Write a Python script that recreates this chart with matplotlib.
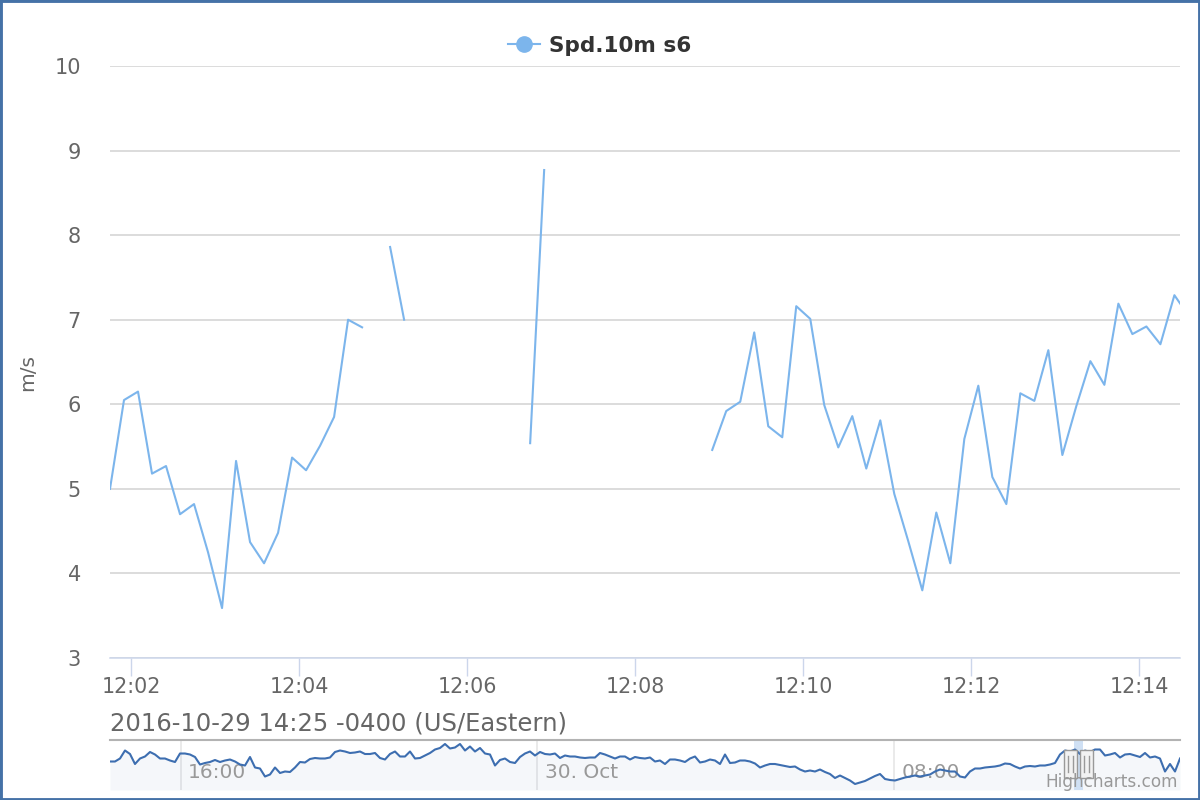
import numpy as np
import pandas as pd
import matplotlib
matplotlib.use("Agg")
import matplotlib.pyplot as plt
import matplotlib.dates as mdates
from matplotlib.patches import Rectangle
from matplotlib.lines import Line2D
from matplotlib.transforms import blended_transform_factory

# main window (10 s samples) and navigator window (24 h)
START = "2016-10-30 12:01:45"
END = "2016-10-30 12:14:29"
NAV_START = "2016-10-29 14:25"
NAV_END = "2016-10-30 14:25"

SERIES_NAME = "Spd.10m s6"
Y_LABEL = "m/s"
SUBTITLE = "2016-10-29 14:25 -0400 (US/Eastern)"

# wind speed, m/s, one value every 10 s (None = no data)
speed = [
    5.00, 6.05, 6.15, 5.18, 5.27, 4.70, 4.82, 4.25, 3.59, 5.33,
    4.37, 4.12, 4.48, 5.37, 5.22, 5.51, 5.85, 7.00, 6.91, None,
    7.86, 7.00, None, None, None, None, None, None, None, None,
    5.54, 8.77, None, None, None, None, None, None, None, None,
    None, None, None, 5.46, 5.92, 6.03, 6.85, 5.74, 5.61, 7.16,
    7.01, 5.99, 5.49, 5.86, 5.24, 5.81, 4.94, 4.38, 3.80, 4.72,
    4.12, 5.59, 6.22, 5.14, 4.82, 6.13, 6.04, 6.64, 5.40, 5.98,
    6.51, 6.23, 7.19, 6.83, 6.92, 6.71, 7.29, 7.05,
]

# navigator overview, evenly spaced over the 24 h
nav_speed = [
    5.7, 5.7, 6.3, 7.9, 7.2, 5.2, 6.3, 6.7, 7.6, 7.1,
    6.3, 6.3, 5.9, 5.6, 7.3, 7.3, 7.1, 6.6, 5.1, 5.4,
    5.6, 6.0, 5.6, 5.9, 6.1, 5.7, 5.1, 4.9, 6.6, 4.5,
    4.3, 2.7, 3.1, 4.5, 3.4, 3.7, 3.6, 4.5, 5.6, 5.5,
    6.2, 6.4, 6.3, 6.3, 6.5, 7.6, 7.9, 7.7, 7.4, 7.5,
    7.7, 7.2, 7.2, 7.4, 6.4,
    6.1, 7.2, 7.7, 6.7, 6.7, 7.7, 6.3, 6.4, 6.9, 7.4,
    8.1, 8.4, 9.2, 8.3, 8.5, 9.2, 7.9, 8.7, 7.7, 8.4,
    7.3, 7.1, 4.9, 6.0, 6.3, 5.6, 5.4, 6.6, 7.3, 7.7,
    6.9, 7.6, 7.2, 7.1, 7.3, 6.4, 6.9, 6.7, 6.7, 6.5,
    6.4, 6.5, 6.5, 7.4, 7.1, 6.7, 6.3, 6.7, 6.7, 6.1,
    6.6, 6.4, 6.3, 6.5,
    5.7, 5.9, 5.2, 6.1, 6.1, 5.9, 5.6, 6.3, 6.7, 5.5,
    5.7, 6.1, 5.9, 5.2, 7.1, 5.4, 5.5, 5.9, 5.9, 5.7,
    5.3, 4.5, 4.9, 5.2, 5.2, 5.0, 4.8, 4.6, 4.7, 4.1,
    3.7, 3.9, 3.7, 4.1, 3.6, 3.2, 2.4, 2.9, 2.4, 1.9,
    1.2, 1.5, 1.8, 2.3, 2.8, 3.2, 2.2, 2.0, 1.9, 2.2,
    2.5, 2.7, 2.9, 2.7,
    2.9, 3.1, 3.7, 4.1, 3.9, 3.7, 3.7, 2.7, 2.5, 3.7,
    4.3, 4.3, 4.5, 4.6, 4.7, 4.9, 5.3, 5.2, 4.7, 4.3,
    4.7, 4.8, 4.7, 4.9, 4.9, 5.1, 5.4, 7.1, 7.9, 7.7,
    8.1, 7.2, 7.9, 7.6, 8.1, 8.1, 6.9, 7.1, 7.4, 6.5,
    7.1, 7.2, 6.9, 6.6, 7.4, 6.5, 6.7, 6.3, 3.7, 5.2,
    3.7, 6.3,
]

nav_labels = [("2016-10-29 16:00", "16:00"),
              ("2016-10-30 00:00", "30. Oct"),
              ("2016-10-30 08:00", "08:00")]

LINE = "#7cb5ec"
NAV_LINE = "#3d6eb0"
GRID = "#d6d6d6"
AXIS = "#ccd6eb"
TEXT = "#666666"

W, H = 1200, 800


def fx(px):
    return px / W


def fy(py):
    return 1 - py / H


times = pd.date_range(START, periods=len(speed), freq="10s")
values = np.array([np.nan if v is None else v for v in speed], dtype=float)

fig = plt.figure(figsize=(12, 8), dpi=100)

# main chart
ax = fig.add_axes([fx(110), fy(658), 1070 / W, 592 / H])
ax.plot(times, values, color=LINE, lw=1.5, zorder=3)
ax.set_xlim(pd.Timestamp(START), pd.Timestamp(END))
ax.set_ylim(3, 10)
ax.set_yticks(range(3, 11))
ax.yaxis.grid(True, color=GRID, lw=1.2)
ax.set_axisbelow(True)
ax.xaxis.set_major_locator(mdates.MinuteLocator(byminute=range(0, 60, 2)))
ax.xaxis.set_major_formatter(mdates.DateFormatter("%H:%M"))
ax.tick_params(axis="x", length=13, width=1, color=AXIS, labelsize=14.9,
               labelcolor=TEXT, pad=1.0)
ax.tick_params(axis="y", length=0, labelsize=15, labelcolor=TEXT, pad=21)
for side in ("top", "right", "left"):
    ax.spines[side].set_visible(False)
ax.spines["bottom"].set_color(AXIS)
ax.spines["bottom"].set_linewidth(1.1)

fig.text(fx(28), fy(372), Y_LABEL, rotation=90, ha="center", va="center",
         fontsize=14.5, color=TEXT)
fig.text(fx(110), fy(730), SUBTITLE, ha="left", va="baseline",
         fontsize=17.5, color=TEXT)

fig.legend(handles=[Line2D([], [], color=LINE, lw=1.5, marker="o", markersize=11)],
           labels=[SERIES_NAME], loc="center", bbox_to_anchor=(0.5, fy(46)),
           frameon=False, prop={"weight": "bold", "size": 15.5},
           labelcolor="#333333", handlelength=1.45, handletextpad=0.45)

# navigator
nav = fig.add_axes([fx(110), fy(790), 1070 / W, 50 / H])
nav_times = pd.date_range(NAV_START, NAV_END, periods=len(nav_speed))
nav.set_xlim(pd.Timestamp(NAV_START), pd.Timestamp(NAV_END))
nav.set_ylim(0, 10)
nav.fill_between(nav_times, nav_speed, 0, color=NAV_LINE, alpha=0.05, lw=0, zorder=1)
nav.plot(nav_times, nav_speed, color=NAV_LINE, lw=1.5, zorder=4)
nav.set_xticks([])
nav.set_yticks([])
for side in ("bottom", "right", "left"):
    nav.spines[side].set_visible(False)
nav.spines["top"].set_color("#b3b3b3")
nav.spines["top"].set_linewidth(1.5)

blend = blended_transform_factory(nav.transData, nav.transAxes)
for t, lab in nav_labels:
    nav.axvline(pd.Timestamp(t), color="#e6e6e6", lw=1.2, zorder=0)
    nav.annotate(lab, xy=(mdates.date2num(pd.Timestamp(t)), 0.34), xycoords=blend,
                 xytext=(5.5, 0), textcoords="offset points", ha="left",
                 va="center", fontsize=14.5, color="#999999", zorder=3)

# selected range mask and handles
nav.axvspan(pd.Timestamp(START), pd.Timestamp(END), color="#cfe0f4", lw=0, zorder=2)
days_per_px = 1.0 / 1070
for edge, side in ((START, -1), (END, 1)):
    cx = mdates.date2num(pd.Timestamp(edge)) + side * 3 * days_per_px
    nav.add_patch(Rectangle((cx - 6.5 * days_per_px, 0.24), 13 * days_per_px, 0.57,
                            transform=blend, facecolor="#f2f2f2",
                            edgecolor="#999999", lw=1, zorder=6, clip_on=False))
    for d in (-2.5, 2.5):
        nav.plot([cx + d * days_per_px] * 2, [0.36, 0.68], transform=blend,
                 color="#999999", lw=1, zorder=7, clip_on=False)

fig.text(fx(1178), fy(787), "Highcharts.com", ha="right", va="baseline",
         fontsize=12.2, color="#999999", zorder=10)

# chart border
fig.add_artist(Rectangle((0, 0), 1, 1, transform=fig.transFigure, fill=False,
                         edgecolor="#4572a7", lw=3.5))

fig.savefig("out.png", dpi=100)
